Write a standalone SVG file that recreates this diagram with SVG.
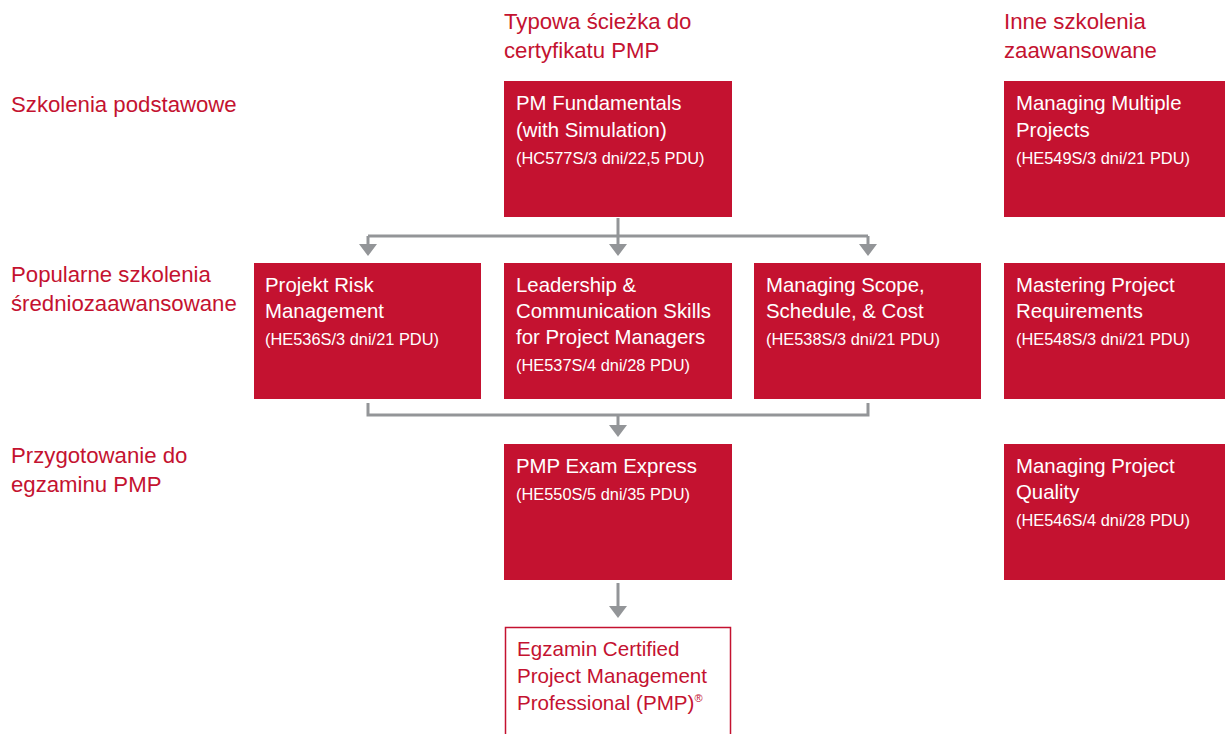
<svg xmlns="http://www.w3.org/2000/svg" width="1225" height="734" viewBox="0 0 1225 734">
<defs>
<style>
.lbl{font-family:"Liberation Sans",Arial,sans-serif;font-size:22.2px;fill:#C41230}
.box{fill:#C41230}
.t{font-family:"Liberation Sans",Arial,sans-serif;font-size:20.4px;fill:#ffffff}
.c{font-family:"Liberation Sans",Arial,sans-serif;font-size:16.4px;fill:#ffffff}
.rt{font-family:"Liberation Sans",Arial,sans-serif;font-size:20.6px;fill:#C41230}
.ln{fill:none;stroke:#939598;stroke-width:3}
.ah{fill:#939598}
</style>
</defs>
<rect width="1225" height="734" fill="#ffffff"/>

<g id="labels">
<text class="lbl" x="504" y="29">Typowa ścieżka do</text>
<text class="lbl" x="504" y="58">certyfikatu PMP</text>
<text class="lbl" x="1004" y="29">Inne szkolenia</text>
<text class="lbl" x="1004" y="58">zaawansowane</text>
<text class="lbl" x="11" y="112">Szkolenia podstawowe</text>
<text class="lbl" x="11" y="282">Popularne szkolenia</text>
<text class="lbl" x="11" y="311">średniozaawansowane</text>
<text class="lbl" x="11" y="463">Przygotowanie do</text>
<text class="lbl" x="11" y="492">egzaminu PMP</text>
</g>

<g id="connectors">
<path class="ln" d="M618,218 V236 M368,236 H868 M368,236 V244 M618,236 V244 M868,236 V244"/>
<path class="ah" d="M359,244 H377 L368,256 Z M609,244 H627 L618,256 Z M859,244 H877 L868,256 Z"/>
<path class="ln" d="M368,403 V415 H868 V403 M618,415 V425"/>
<path class="ah" d="M609,425 H627 L618,437 Z"/>
<path class="ln" d="M618,583 V607"/>
<path class="ah" d="M609,606 H627 L618,618 Z"/>
</g>

<g id="pm-fundamentals">
<rect class="box" x="504" y="81" width="228" height="136"/>
<text class="t" x="516" y="110">PM Fundamentals</text>
<text class="t" x="516" y="137">(with Simulation)</text>
<text class="c" x="516" y="164">(HC577S/3 dni/22,5 PDU)</text>
</g>

<g id="managing-multiple">
<rect class="box" x="1004" y="81" width="221" height="136"/>
<text class="t" x="1016" y="110">Managing Multiple</text>
<text class="t" x="1016" y="137">Projects</text>
<text class="c" x="1016" y="164">(HE549S/3 dni/21 PDU)</text>
</g>

<g id="risk">
<rect class="box" x="254" y="263" width="227" height="136"/>
<text class="t" x="265" y="292">Projekt Risk</text>
<text class="t" x="265" y="318">Management</text>
<text class="c" x="265" y="345">(HE536S/3 dni/21 PDU)</text>
</g>

<g id="leadership">
<rect class="box" x="504" y="263" width="228" height="136"/>
<text class="t" x="516" y="292">Leadership &amp;</text>
<text class="t" x="516" y="318">Communication Skills</text>
<text class="t" x="516" y="344">for Project Managers</text>
<text class="c" x="516" y="371">(HE537S/4 dni/28 PDU)</text>
</g>

<g id="scope">
<rect class="box" x="754" y="263" width="227" height="136"/>
<text class="t" x="766" y="292">Managing Scope,</text>
<text class="t" x="766" y="318">Schedule, &amp; Cost</text>
<text class="c" x="766" y="345">(HE538S/3 dni/21 PDU)</text>
</g>

<g id="requirements">
<rect class="box" x="1004" y="263" width="221" height="136"/>
<text class="t" x="1016" y="292">Mastering Project</text>
<text class="t" x="1016" y="318">Requirements</text>
<text class="c" x="1016" y="345">(HE548S/3 dni/21 PDU)</text>
</g>

<g id="exam-express">
<rect class="box" x="504" y="444" width="228" height="136"/>
<text class="t" x="516" y="473">PMP Exam Express</text>
<text class="c" x="516" y="500">(HE550S/5 dni/35 PDU)</text>
</g>

<g id="quality">
<rect class="box" x="1004" y="444" width="221" height="136"/>
<text class="t" x="1016" y="473">Managing Project</text>
<text class="t" x="1016" y="499">Quality</text>
<text class="c" x="1016" y="526">(HE546S/4 dni/28 PDU)</text>
</g>

<g id="pmp-exam">
<rect x="505.5" y="627.5" width="225" height="110" fill="#ffffff" stroke="#C41230" stroke-width="1.5"/>
<text class="rt" x="517" y="656">Egzamin Certified</text>
<text class="rt" x="517" y="683">Project Management</text>
<text class="rt" x="517" y="710">Professional (PMP)<tspan font-size="11" dy="-8">®</tspan></text>
</g>
</svg>
